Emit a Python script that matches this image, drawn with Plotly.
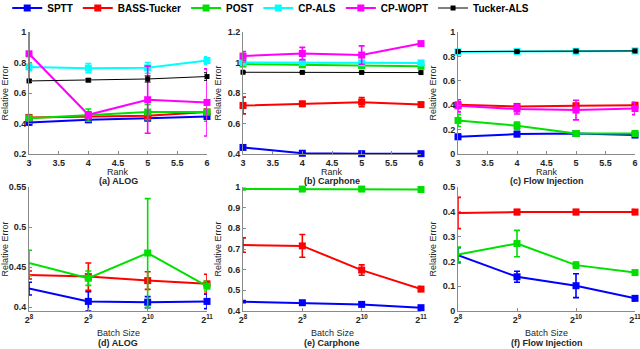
import plotly.graph_objects as go
from plotly.subplots import make_subplots

# eixos
rank = [3, 4, 5, 6]
batch = [256, 512, 1024, 2048]
batch_text = ['2<sup>8</sup>', '2<sup>9</sup>', '2<sup>10</sup>', '2<sup>11</sup>']

metodos = ['SPTT', 'BASS-Tucker', 'POST', 'CP-ALS', 'CP-WOPT', 'Tucker-ALS']
cores = ['#0000ff', '#ff0000', '#00e000', '#00ffff', '#ff00ff', '#000000']

# (a) ALOG - rank
alog_rank = [[0.407, 0.424, 0.435, 0.446], [0.44, 0.445, 0.45, 0.475], [0.435, 0.455, 0.475, 0.475],
             [0.771, 0.763, 0.765, 0.813], [0.857, 0.457, 0.556, 0.538], [0.679, 0.684, 0.692, 0.708]]
alog_rank_err = [[0.01, 0.01, 0.015, 0.015], [0.015, 0.01, 0.015, 0.02], [0.01, 0.04, 0.05, 0.06],
                 [0.025, 0.03, 0.035, 0.025], [0.17, 0.02, 0.22, 0.22], [0.01, 0.01, 0.02, 0.025]]

# (b) Carphone - rank
carphone_rank = [[0.443, 0.405, 0.402, 0.402], [0.718, 0.729, 0.74, 0.724], [0.99, 0.985, 0.98, 0.975],
                 [1.0, 1.0, 0.998, 0.997], [1.042, 1.059, 1.049, 1.124], [0.936, 0.935, 0.935, 0.934]]
carphone_rank_err = [[0.005, 0.005, 0.005, 0.005], [0.055, 0.015, 0.03, 0.015], [0.01, 0.01, 0.01, 0.01],
                     [0.01, 0.01, 0.01, 0.01], [0.03, 0.04, 0.06, 0.01], [0.003, 0.003, 0.003, 0.003]]

# (c) Flow Injection - rank
flow_rank = [[0.141, 0.163, 0.168, 0.155], [0.403, 0.39, 0.395, 0.40], [0.275, 0.232, 0.168, 0.168],
             [0.837, 0.84, 0.842, 0.845], [0.395, 0.368, 0.36, 0.373], [0.84, 0.84, 0.843, 0.845]]
flow_rank_err = [[0.02, 0.02, 0.01, 0.01], [0.02, 0.02, 0.02, 0.02], [0.05, 0.03, 0.02, 0.02],
                 [0.005, 0.005, 0.005, 0.005], [0.05, 0.04, 0.08, 0.05], [0.005, 0.005, 0.005, 0.005]]

# (d) ALOG - batch size (SPTT, BASS-Tucker, POST)
alog_batch = [[0.423, 0.407, 0.406, 0.407], [0.44, 0.438, 0.433, 0.429], [0.455, 0.436, 0.4675, 0.426]]
alog_batch_err = [[0.008, 0.012, 0.007, 0.009], [0.005, 0.017, 0.011, 0.012], [0.016, 0.009, 0.068, 0.006]]

# (e) Carphone - batch size
carphone_batch = [[0.445, 0.44, 0.432, 0.416], [0.719, 0.715, 0.598, 0.506], [0.99, 0.99, 0.99, 0.988]]
carphone_batch_err = [[0.005, 0.005, 0.005, 0.005], [0.035, 0.055, 0.025, 0.012], [0.004, 0.004, 0.004, 0.004]]

# (f) Flow Injection - batch size
flow_batch = [[0.225, 0.138, 0.102, 0.051], [0.395, 0.399, 0.399, 0.399], [0.228, 0.272, 0.185, 0.155]]
flow_batch_err = [[0.03, 0.022, 0.048, 0.01], [0.063, 0.01, 0.01, 0.01], [0.03, 0.053, 0.012, 0.005]]

legendas = ['(a) ALOG', '(b) Carphone', '(c) Flow Injection',
            '(d) ALOG', '(e) Carphone', '(f) Flow Injection']

fig = make_subplots(rows=2, cols=3)


def adicionar(valores, erros, x, row, col, mostrar):
    for i in range(len(valores)):
        fino = metodos[i] == 'Tucker-ALS'
        fig.add_trace(go.Scatter(
            x=x, y=valores[i], name=metodos[i], mode='lines+markers', cliponaxis=False,
            line=dict(color=cores[i], width=1 if fino else 2),
            marker=dict(symbol='square', size=5 if fino else 7, color=cores[i]),
            error_y=dict(type='data', array=erros[i], color=cores[i],
                         thickness=1 if fino else 1.6, width=3),
            showlegend=mostrar, legendgroup=metodos[i]), row=row, col=col)


adicionar(alog_rank, alog_rank_err, rank, 1, 1, True)
adicionar(carphone_rank, carphone_rank_err, rank, 1, 2, False)
adicionar(flow_rank, flow_rank_err, rank, 1, 3, False)
adicionar(alog_batch, alog_batch_err, batch, 2, 1, False)
adicionar(carphone_batch, carphone_batch_err, batch, 2, 2, False)
adicionar(flow_batch, flow_batch_err, batch, 2, 3, False)

W, H = 640, 349
x_dom = [(29, 207), (243, 421), (458, 635)]
y_top = (32, 154)
y_bot = (187, 311)
y_ranges = [[0.2, 1], [0.4, 1.2], [0, 1], [0.395, 0.55], [0.4, 1], [0, 0.5]]
y_dticks = [0.2, 0.2, 0.2, 0.05, 0.1, 0.1]

fonte = dict(family='Liberation Sans', size=9, color='#262626')
fonte_tick = dict(fonte, weight='bold')
eixo = dict(showline=True, linecolor='#8a8a8a', linewidth=1, mirror=False, showgrid=False,
            zeroline=False, ticks='inside', ticklen=3, tickcolor='#8a8a8a', tickfont=fonte_tick,
            ticklabeloverflow='allow')

for k in range(6):
    r, c = k // 3, k % 3
    ydom = y_top if r == 0 else y_bot
    fig.update_xaxes(row=r + 1, col=c + 1, domain=[x_dom[c][0] / W, x_dom[c][1] / W], **eixo)
    fig.update_yaxes(row=r + 1, col=c + 1, domain=[1 - ydom[1] / H, 1 - ydom[0] / H],
                     range=y_ranges[k], dtick=y_dticks[k], tick0=0, **eixo,
                     title=dict(text='Relative Error', standoff=4, font=fonte))
    if r == 0:
        fig.update_xaxes(row=1, col=c + 1, range=[3, 6], dtick=0.5)
    else:
        fig.update_xaxes(row=2, col=c + 1, type='log', range=[2.40824, 3.31134],
                         tickvals=batch, ticktext=batch_text)
    xc = (x_dom[c][0] + x_dom[c][1]) / 2 / W
    # titulo do eixo x e legenda do painel
    titulo_y, cap_y = (172, 181) if r == 0 else (333, 343)
    fig.add_annotation(text='Rank' if r == 0 else 'Batch Size', xref='paper', yref='paper',
                       x=xc, y=1 - titulo_y / H, xanchor='center', yanchor='middle',
                       showarrow=False, font=fonte)
    fig.add_annotation(text=legendas[k], xref='paper', yref='paper',
                       x=xc, y=1 - cap_y / H, xanchor='center', yanchor='middle', showarrow=False,
                       font=fonte_tick)

fig.update_layout(
    width=W, height=H,
    margin=dict(l=0, r=0, t=0, b=0, autoexpand=False),
    plot_bgcolor='white', paper_bgcolor='white',
    legend=dict(orientation='h', x=0.423, xanchor='center', y=1 - 8 / H, yanchor='middle',
                font=dict(family='Liberation Sans', size=10, color='#000000', weight='bold'),
                itemwidth=30, tracegroupgap=0, bgcolor='rgba(0,0,0,0)')
)

# tirar a margem padrao da pagina
fig.write_html("out.html", config={'displayModeBar': False},
               post_script="document.body.style.margin='0';")
